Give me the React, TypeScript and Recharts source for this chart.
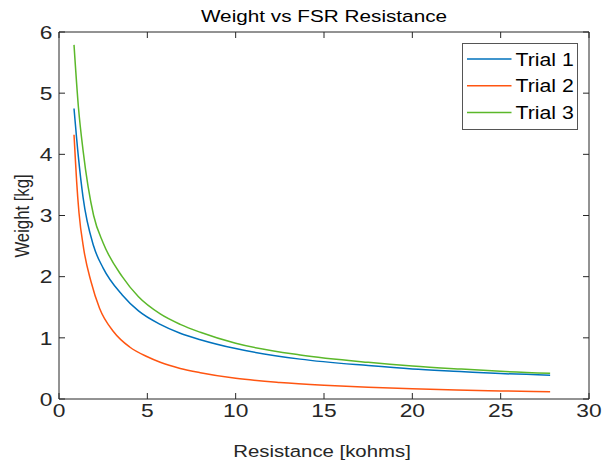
import React from 'react';
import { LineChart, Line, XAxis, YAxis, Legend, ReferenceArea } from 'recharts';

// Resistance [kohms] sample points and weights [kg]
const trial1Resistance = [0.85, 1.1, 1.36, 1.96, 2.5, 3.58, 4.5, 5.73, 6.86, 8.0, 10.0, 13.65, 17.5, 20.0, 22.7, 25.0, 27.8];
const trial1Weight = [4.75, 3.95, 3.3, 2.5, 2.14, 1.7, 1.44, 1.22, 1.075, 0.97, 0.824, 0.652, 0.546, 0.49, 0.45, 0.416, 0.39];

const trial2Resistance = [0.85, 0.92, 1.0, 1.13, 1.4, 1.81, 2.3, 3.09, 4.0, 5.0, 5.73, 6.86, 8.0, 10.0, 12.5, 15.0, 17.5, 20.0, 22.5, 25.0, 27.8];
const trial2Weight = [4.32, 3.95, 3.55, 3.05, 2.45, 1.92, 1.48, 1.1, 0.85, 0.69, 0.6, 0.5, 0.43, 0.338, 0.27, 0.225, 0.192, 0.167, 0.148, 0.132, 0.118];

const trial3Resistance = [0.85, 1.1, 1.36, 1.96, 2.5, 3.58, 4.5, 5.73, 6.86, 8.0, 10.0, 13.65, 17.5, 20.0, 22.7, 25.0, 27.8];
const trial3Weight = [5.79, 4.77, 4.07, 3.0, 2.55, 2.0, 1.67, 1.39, 1.22, 1.09, 0.91, 0.72, 0.6, 0.54, 0.49, 0.452, 0.42];

const xTicks = [0, 5, 10, 15, 20, 25, 30];
const yTicks = [0, 1, 2, 3, 4, 5, 6];
const seriesNames = ['Trial 1', 'Trial 2', 'Trial 3'];
const seriesColors = ['#0072BD', '#FF5511', '#5BB82A'];

const titleText = 'Weight vs FSR Resistance';
const xLabelText = 'Resistance [kohms]';
const yLabelText = 'Weight [kg]';

const toRows = (xs: number[], ys: number[]) => xs.map((r, i) => ({ r, w: ys[i] }));
const trial1Data = toRows(trial1Resistance, trial1Weight);
const trial2Data = toRows(trial2Resistance, trial2Weight);
const trial3Data = toRows(trial3Resistance, trial3Weight);

const FONT = '"Liberation Sans", Arial, Helvetica, sans-serif';
const AXIS = '#262626';
const TICK_LEN = 6;
const SX = 1.22; // horizontal glyph stretch seen in the reference

const SText = (p: any) => (
  <text
    x={0}
    y={0}
    transform={`translate(${p.x},${p.y}) scale(${p.sx ?? SX},1)${p.rotate ? ` rotate(${p.rotate})` : ''}`}
    textAnchor={p.anchor || 'start'}
    fontSize={p.size}
    fontFamily={FONT}
    fill={p.fill || AXIS}
  >
    {p.children}
  </text>
);

const BottomTick = (props: any) => {
  const { x, y, payload } = props;
  return (
    <g>
      <line x1={x} y1={y} x2={x} y2={y - TICK_LEN} stroke={AXIS} strokeWidth={1} />
      <SText x={x} y={y + 18.3} anchor="middle" size={19} sx={1.2}>
        {payload.value}
      </SText>
    </g>
  );
};

const TopTick = (props: any) => {
  const { x, y } = props;
  return <line x1={x} y1={y} x2={x} y2={y + TICK_LEN} stroke={AXIS} strokeWidth={1} />;
};

const LeftTick = (props: any) => {
  const { x, y, payload } = props;
  return (
    <g>
      <line x1={x} y1={y} x2={x + TICK_LEN} y2={y} stroke={AXIS} strokeWidth={1} />
      <SText x={x - 6.5} y={y + 6.8} anchor="end" size={19} sx={1.2}>
        {payload.value}
      </SText>
    </g>
  );
};

const RightTick = (props: any) => {
  const { x, y } = props;
  return <line x1={x} y1={y} x2={x - TICK_LEN} y2={y} stroke={AXIS} strokeWidth={1} />;
};

const XLabel = (props: any) => {
  const vb = props.viewBox;
  return (
    <SText x={vb.x + vb.width / 2 - 2} y={vb.y + 57.5} anchor="middle" size={16.7}>
      {xLabelText}
    </SText>
  );
};

const YLabel = (props: any) => {
  const vb = props.viewBox;
  return (
    <SText x={28.5} y={vb.y + vb.height / 2 + 0.5} anchor="middle" size={16.7} rotate={-90}>
      {yLabelText}
    </SText>
  );
};

const TitleLabel = (props: any) => {
  const vb = props.viewBox;
  return (
    <SText x={vb.x + vb.width / 2} y={21.5} anchor="middle" size={17} fill="#000">
      {titleText}
    </SText>
  );
};

const LegendBox = () => (
  <svg width={117} height={88} style={{ display: 'block' }}>
    <rect x={0.5} y={0.5} width={115} height={86} fill="#fff" stroke="#555" strokeWidth={1} />
    {seriesNames.map((name, i) => (
      <g key={name}>
        <line x1={5} x2={49.5} y1={16 + i * 26.8} y2={16 + i * 26.8} stroke={seriesColors[i]} strokeWidth={1.5} />
        <SText x={53.5} y={22.6 + i * 26.8} size={18.5} sx={1.15} fill="#000">
          {name}
        </SText>
      </g>
    ))}
  </svg>
);

export default function App() {
  return (
    <div style={{ position: 'absolute', left: 0, top: 0, width: 603, height: 461, background: '#fff' }}>
      <LineChart width={603} height={461} margin={{ top: 31, right: 13, bottom: 0, left: 0 }}>
        <XAxis
          xAxisId="bottom"
          dataKey="r"
          type="number"
          domain={[0, 30]}
          ticks={xTicks}
          allowDataOverflow
          height={62}
          tickSize={0}
          tickMargin={0}
          tick={<BottomTick />}
          axisLine={false}
          tickLine={false}
          label={<XLabel />}
        />
        <XAxis
          xAxisId="top"
          orientation="top"
          dataKey="r"
          type="number"
          domain={[0, 30]}
          ticks={xTicks}
          allowDataOverflow
          height={1}
          tickSize={0}
          tickMargin={0}
          tick={<TopTick />}
          axisLine={false}
          tickLine={false}
          label={<TitleLabel />}
        />
        <YAxis
          yAxisId="left"
          type="number"
          domain={[0, 6]}
          ticks={yTicks}
          allowDataOverflow
          width={59}
          tickSize={0}
          tickMargin={0}
          tick={<LeftTick />}
          axisLine={false}
          tickLine={false}
          label={<YLabel />}
        />
        <YAxis
          yAxisId="right"
          orientation="right"
          type="number"
          domain={[0, 6]}
          ticks={yTicks}
          allowDataOverflow
          width={1}
          tickSize={0}
          tickMargin={0}
          tick={<RightTick />}
          axisLine={false}
          tickLine={false}
        />
        <ReferenceArea
          xAxisId="bottom"
          yAxisId="left"
          x1={0}
          x2={30}
          y1={0}
          y2={6}
          fill="none"
          fillOpacity={0}
          stroke={AXIS}
          strokeWidth={1}
          strokeOpacity={1}
          ifOverflow="visible"
        />
        <Line xAxisId="bottom" yAxisId="left" data={trial1Data} dataKey="w" name={seriesNames[0]} type="monotone" stroke={seriesColors[0]} strokeWidth={1.5} dot={false} isAnimationActive={false} />
        <Line xAxisId="bottom" yAxisId="left" data={trial2Data} dataKey="w" name={seriesNames[1]} type="monotone" stroke={seriesColors[1]} strokeWidth={1.5} dot={false} isAnimationActive={false} />
        <Line xAxisId="bottom" yAxisId="left" data={trial3Data} dataKey="w" name={seriesNames[2]} type="monotone" stroke={seriesColors[2]} strokeWidth={1.5} dot={false} isAnimationActive={false} />
        <Legend
          layout="vertical"
          align="center"
          verticalAlign="middle"
          content={<LegendBox />}
          wrapperStyle={{ left: 462, top: 43, width: 117, height: 88, right: 'auto', bottom: 'auto', margin: 0, padding: 0 }}
        />
      </LineChart>
    </div>
  );
}
